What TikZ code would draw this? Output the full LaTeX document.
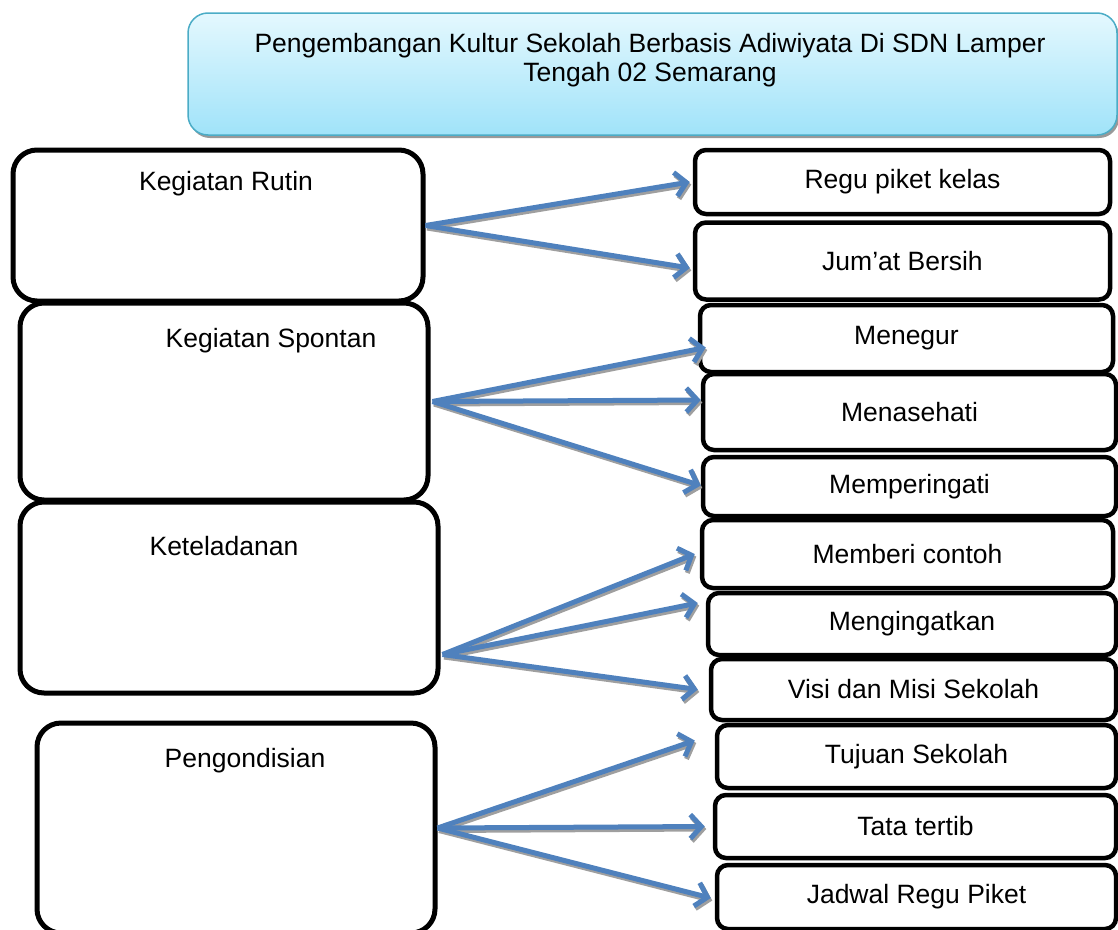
\documentclass[tikz,border=0pt]{standalone}
\usepackage{fontspec}
\setmainfont{Liberation Sans}
\definecolor{BiruPanah}{HTML}{4F81BD}
\definecolor{BiruTepi}{HTML}{4BACC6}
\definecolor{LangitAtas}{HTML}{E4F8FE}
\definecolor{LangitBawah}{HTML}{A0E3F9}
\usetikzlibrary{arrows.meta}
\usetikzlibrary{shadows}
\usetikzlibrary{positioning}

\begin{document}
\begin{tikzpicture}
	[x=1pt, y=-1pt,
	every node/.style = {font=\fontsize{26.5}{28.5}\selectfont, text=black},
	kotakkiri/.style = {draw, line width=5pt, rounded corners=24pt, inner sep=0pt},
	kotakkanan/.style = {draw, line width=4.5pt, rounded corners=11pt, inner sep=0pt},
	kotakjudul/.style = {draw=BiruTepi, line width=1.5pt, rounded corners=20pt,
		top color=LangitAtas, bottom color=LangitBawah,
		drop shadow={shadow xshift=2pt, shadow yshift=-3pt, fill=gray!80, opacity=1}},
	panah/.style = {draw=BiruPanah, line width=5pt,
		-{Straight Barb[length=11pt, width=24pt]}},
	bayangan/.style = {panah, draw=gray!75,
		transform canvas={xshift=1.5pt, yshift=-2.5pt}}]
	\useasboundingbox (0,0) rectangle (1118,929);

	% judul
	\node[kotakjudul, minimum width=929pt, minimum height=122pt] (judul) at (652.5,74) {};
	\node[align=center] (judulteks) at (650,60)
		{Pengembangan Kultur Sekolah Berbasis Adiwiyata Di SDN Lamper\\Tengah 02 Semarang};

	% kotak kiri
	\node[kotakkiri, minimum width=410pt, minimum height=151pt] (rutin) at (218,225.5) {};
	\node[kotakkiri, minimum width=408pt, minimum height=197pt] (spontan) at (224,401.5) {};
	\node[kotakkiri, minimum width=418pt, minimum height=191pt] (teladan) at (229,597.5) {};
	\node[kotakkiri, minimum width=398pt, minimum height=210pt] (kondisi) at (236,828) {};
	\node (trutin) at (226,184) {Kegiatan Rutin};
	\node (tspontan) at (271,341) {Kegiatan Spontan};
	\node (tteladan) at (224,546) {Keteladanan};
	\node (tkondisi) at (245,761) {Pengondisian};

	% kotak kanan
	\node[kotakkanan, minimum width=415pt, minimum height=64pt] (piket) at (902.5,182) {Regu piket kelas};
	\node[kotakkanan, minimum width=415pt, minimum height=77pt] (jumat) at (902.5,261) {Jum’at Bersih};
	\node[kotakkanan, minimum width=413pt, minimum height=67pt] (tegur) at (906.5,338.5) {Menegur};
	\node[kotakkanan, minimum width=413pt, minimum height=76pt] (nasehat) at (909.5,412) {Menasehati};
	\node[kotakkanan, minimum width=413pt, minimum height=59pt] (ingat) at (909.5,486.5) {Memperingati};
	\node[kotakkanan, minimum width=411pt, minimum height=68pt] (contoh) at (907.5,554) {Memberi contoh};
	\node[kotakkanan, minimum width=408pt, minimum height=62pt] (ingatkan) at (912,624) {Mengingatkan};
	\node[kotakkanan, minimum width=405pt, minimum height=61pt] (visi) at (913.5,689.5) {Visi dan Misi Sekolah};
	\node[kotakkanan, minimum width=399pt, minimum height=63pt] (tujuan) at (916.5,756.5) {Tujuan Sekolah};
	\node[kotakkanan, minimum width=401pt, minimum height=63pt] (tatib) at (915.5,826.5) {Tata tertib};
	\node[kotakkanan, minimum width=399pt, minimum height=64pt] (jadwal) at (916.5,897) {Jadwal Regu Piket};

	% pangkal dan ujung panah
	\coordinate (orutin) at (rutin.east);
	\coordinate (ospontan) at ([xshift=2pt]spontan.east);
	\coordinate (oteladan) at ([xshift=2pt, yshift=-57pt]teladan.east);
	\coordinate (okondisi) at (kondisi.east);
	\coordinate (upiket) at ([xshift=-3pt]piket.west);
	\coordinate (ujumat) at ([xshift=-3pt, yshift=-7pt]jumat.west);
	\coordinate (utegur) at ([xshift=8pt, yshift=-9pt]tegur.west);
	\coordinate (unasehat) at ([yshift=12pt]nasehat.west);
	\coordinate (uingat) at ([yshift=1pt]ingat.west);
	\coordinate (ucontoh) at ([xshift=-5pt]contoh.west);
	\coordinate (uingatkan) at ([xshift=-8pt, yshift=21pt]ingatkan.west);
	\coordinate (uvisi) at ([xshift=-11pt]visi.west);
	\coordinate (utujuan) at ([xshift=-20pt, yshift=16pt]tujuan.west);
	\coordinate (utatib) at ([xshift=-8pt]tatib.west);
	\coordinate (ujadwal) at ([xshift=-4pt, yshift=-1pt]jadwal.west);

	% panah
	\foreach \gaya in {bayangan, panah}
	\foreach \asal/\ujung in {orutin/upiket, orutin/ujumat,
		ospontan/utegur, ospontan/unasehat, ospontan/uingat,
		oteladan/ucontoh, oteladan/uingatkan, oteladan/uvisi,
		okondisi/utujuan, okondisi/utatib, okondisi/ujadwal}
	{\draw[\gaya] (\asal) -- (\ujung);}
\end{tikzpicture}
\end{document}
